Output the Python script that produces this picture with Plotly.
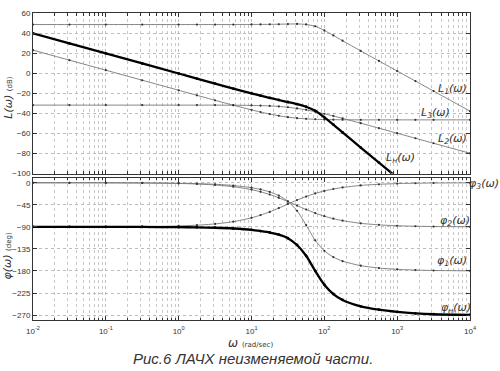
import plotly.graph_objects as go

# ---------------- data ----------------
omega = [0.01, 0.0316, 0.1, 0.316, 1, 1.78, 3.16, 5.62, 10, 13.3, 17.8, 23.7,
         31.6, 42.2, 56.2, 75, 100, 133, 178, 316, 562, 1000, 1780, 3160, 10000]

# magnitudes, dB
L1 = [48.5, 48.5, 48.5, 48.5, 48.5, 48.5, 48.5, 48.5, 48.6, 48.6, 48.7, 48.8,
      49.0, 49.1, 48.6, 46.8, 42.6, 37.7, 32.4, 22.2, 12.2, 2.2, -7.8, -17.8, -37.8]
L2 = [-31.8, -31.8, -31.8, -31.8, -31.8, -31.8, -31.8, -31.9, -32.1, -32.3, -32.6, -33.1,
      -33.9, -35.1, -36.5, -38.4, -40.4, -42.6, -45.0, -49.8, -54.8, -59.8, -64.8, -69.8, -79.8]
L3 = [23.0, 13.0, 3.0, -7.0, -17.0, -22.0, -27.0, -31.9, -36.5, -38.7, -40.7, -42.4,
      -43.8, -44.8, -45.5, -45.9, -46.2, -46.3, -46.4, -46.5, -46.5, -46.5, -46.5, -46.5, -46.5]
Ln = [39.7, 29.7, 19.7, 9.7, -0.3, -5.3, -10.3, -15.3, -20.0, -22.4, -24.6, -26.7,
      -28.7, -30.8, -33.4, -37.5, -44.0, -51.2, -59.0, -74.1, -89.1, -104.1, -119.1, -134.1, -164.1]

# phases, deg
phi1 = [0.0, 0.0, -0.1, -0.3, -1.0, -1.8, -3.1, -5.6, -10.1, -13.6, -18.7, -26.1,
        -37.8, -57.1, -86.4, -117.5, -138.8, -151.7, -160.0, -169.2, -174.0, -176.7, -178.1, -179.0, -179.7]
phi2 = [0.0, -0.05, -0.1, -0.5, -1.4, -2.5, -4.5, -8.0, -14.0, -18.4, -24.0, -30.7,
        -38.3, -46.5, -54.6, -61.9, -68.2, -73.3, -77.3, -82.8, -85.9, -87.7, -88.7, -89.3, -89.8]
phi3 = [-90.0, -89.9, -89.8, -89.4, -88.1, -86.6, -84.0, -79.4, -71.6, -66.0, -59.4, -51.7,
        -43.5, -35.4, -28.1, -21.8, -16.7, -12.7, -9.6, -5.4, -3.1, -1.7, -1.0, -0.5, -0.2]
phin = [-90.0, -90.0, -90.0, -90.2, -90.6, -91.0, -91.8, -93.3, -96.0, -98.5, -101.5, -106.0,
        -113.0, -127.0, -149.0, -180.0, -208.0, -227.0, -239.0, -252.0, -259.0, -263.5, -266.5, -268.3, -269.6]

x_tickvals = [0.01, 0.1, 1, 10, 100, 1000, 10000]
x_ticktext = ["10<sup>-2</sup>", "10<sup>-1</sup>", "10<sup>0</sup>", "10<sup>1</sup>",
              "10<sup>2</sup>", "10<sup>3</sup>", "10<sup>4</sup>"]
mag_ticks = [60, 40, 20, 0, -20, -40, -60, -80, -100]
phase_ticks = [0, -45, -90, -135, -180, -225, -270]
minor_vals = [m * 10.0 ** k for k in range(-2, 4) for m in range(2, 10)]

# ---------------- figure ----------------
fig = go.Figure()

thin = dict(color="#777777", width=0.9, shape="spline", smoothing=0.6)
thin_mk = dict(size=2.2, color="#333")

def add(y, xa, ya, thick=False):
    fig.add_trace(go.Scatter(
        x=omega, y=y, xaxis=xa, yaxis=ya, mode="lines+markers",
        line=dict(color="#000", width=2.3, shape="spline", smoothing=0.8) if thick else thin,
        marker=dict(size=2.8, color="#000") if thick else thin_mk,
        showlegend=False, hoverinfo="skip"))

for s in (L1, L2, L3):
    add(s, "x", "y")
add(Ln, "x", "y", thick=True)
for s in (phi1, phi2, phi3):
    add(s, "x2", "y2")
add(phin, "x2", "y2", thick=True)

tickfont = dict(family="Liberation Sans, Arial", size=8, color="#333")
common = dict(showline=True, linecolor="#333", linewidth=1, mirror="ticks",
              ticks="inside", ticklen=4, tickcolor="#333", tickwidth=1,
              showgrid=True, gridcolor="#bdbdbd", griddash="dot", gridwidth=1,
              zeroline=False, tickfont=tickfont)
xcommon = dict(common, type="log", range=[-2, 4], tickmode="array",
               tickvals=x_tickvals, ticktext=x_ticktext,
               minor=dict(tickmode="array", tickvals=minor_vals, ticks="inside",
                          ticklen=2.5, tickcolor="#333", showgrid=True,
                          gridcolor="#c8c8c8", griddash="dot", gridwidth=1))

fig.update_layout(
    width=500, height=371,
    margin=dict(l=33, r=30, t=9, b=51),
    paper_bgcolor="white", plot_bgcolor="white",
    xaxis=dict(xcommon, anchor="y", showticklabels=False),
    yaxis=dict(common, domain=[0.477, 1.0], range=[-100, 60], tickmode="array",
               tickvals=mag_ticks, anchor="x"),
    xaxis2=dict(xcommon, anchor="y2", matches="x", ticklabelstandoff=3),
    yaxis2=dict(common, domain=[0.0, 0.463], range=[-280, 10], tickmode="array",
                tickvals=phase_ticks, anchor="x2"),
)

lab_font = dict(family="DejaVu Sans, Liberation Sans", size=11, color="#333")
labels = [
    ("<i>L<sub>1</sub>(ω)</i>", 0.961, 0.752),
    ("<i>L<sub>3</sub>(ω)</i>", 0.920, 0.675),
    ("<i>L<sub>2</sub>(ω)</i>", 0.961, 0.588),
    ("<i>L<sub>н</sub>(ω)</i>", 0.840, 0.527),
    ("<i>φ<sub>3</sub>(ω)</i>", 1.032, 0.444),
    ("<i>φ<sub>2</sub>(ω)</i>", 0.966, 0.322),
    ("<i>φ<sub>1</sub>(ω)</i>", 0.959, 0.193),
    ("<i>φ<sub>н</sub>(ω)</i>", 0.968, 0.039),
]
for t, x, y in labels:
    fig.add_annotation(text=t, x=x, y=y, xref="paper", yref="paper",
                       showarrow=False, font=lab_font, xanchor="center", yanchor="middle")

fig.add_annotation(text="<i>L(ω)</i> <span style='font-size:7px'>(dB)</span>",
                   x=-0.058, y=0.723, xref="paper", yref="paper", textangle=-90,
                   xanchor="center", yanchor="middle",
                   showarrow=False, font=dict(family="DejaVu Sans", size=11, color="#333"))
fig.add_annotation(text="<i>φ(ω)</i> <span style='font-size:7px'>(deg)</span>",
                   x=-0.058, y=0.209, xref="paper", yref="paper", textangle=-90,
                   xanchor="center", yanchor="middle",
                   showarrow=False, font=dict(family="DejaVu Sans", size=11, color="#333"))
fig.add_annotation(text="<i>ω</i> <span style='font-size:7px'>(rad/sec)</span>",
                   x=0.497, y=-0.074, xref="paper", yref="paper",
                   xanchor="center", yanchor="middle",
                   showarrow=False, font=dict(family="DejaVu Sans", size=12, color="#333"))
fig.add_annotation(text="<i>Рис.6 ЛАЧХ неизменяемой части.</i>",
                   x=0.503, y=-0.125, xref="paper", yref="paper",
                   xanchor="center", yanchor="middle",
                   showarrow=False, font=dict(family="Liberation Sans", size=15, color="#333"))

fig.write_html("out.html", config={"displayModeBar": False},
               post_script="document.body.style.margin='0px';")
